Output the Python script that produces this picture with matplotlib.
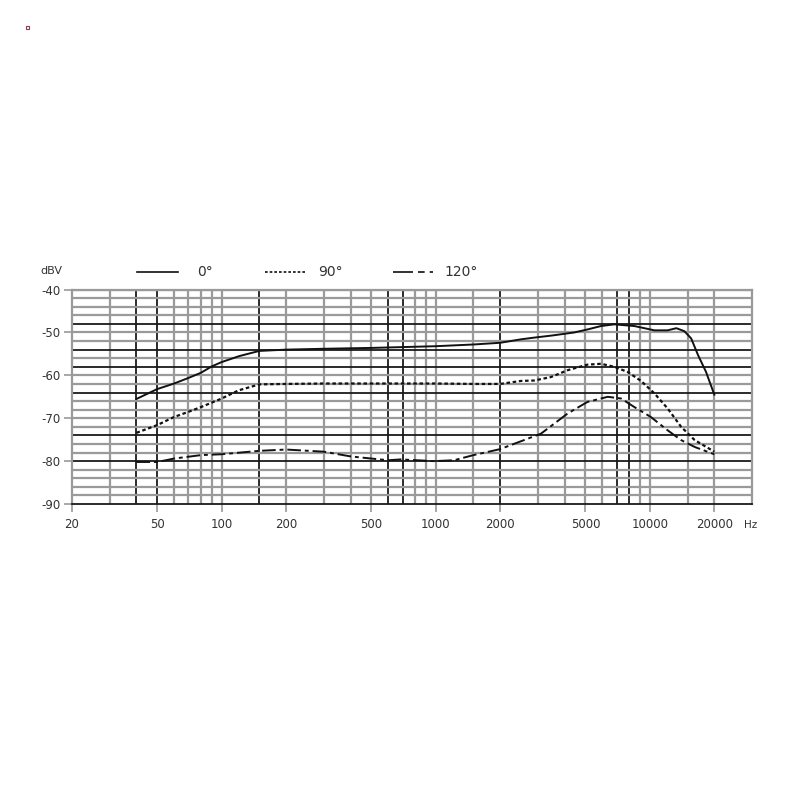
import matplotlib
matplotlib.use("Agg")
import matplotlib.pyplot as plt
from matplotlib.lines import Line2D
from matplotlib.patches import Rectangle
import numpy as np

# frequency response, values (Hz, dBV)
f_0 = [40, 50, 60, 70, 80, 90, 100, 121, 150, 200, 300, 500, 1000, 1500, 2000,
       2500, 2880, 3500, 4430, 5110, 5910, 6820, 8470, 10500, 12100, 13300,
       14500, 15600, 16800, 18300, 20000]
db_0 = [-65.5, -63.2, -61.9, -60.6, -59.4, -57.9, -56.9, -55.5, -54.3, -54.0,
        -53.8, -53.6, -53.2, -52.8, -52.4, -51.6, -51.2, -50.7, -50.0, -49.3,
        -48.5, -48.1, -48.5, -49.5, -49.5, -49.0, -49.7, -51.4, -55.3, -59.2,
        -64.5]

f_90 = [40, 50, 60, 70, 80, 100, 120, 150, 200, 300, 500, 1000, 1500, 2000,
        2500, 2880, 3450, 4130, 5110, 5910, 6820, 7870, 9100, 10500, 12100,
        14000, 16200, 20000]
db_90 = [-73.4, -71.6, -69.7, -68.5, -67.4, -65.4, -63.5, -62.1, -62.0, -61.9,
         -61.9, -61.9, -62.0, -62.0, -61.3, -61.2, -60.4, -58.8, -57.5, -57.3,
         -58.0, -59.2, -61.3, -64.2, -67.7, -72.0, -75.1, -77.8]

f_120 = [40, 50, 60, 80, 100, 150, 200, 300, 400, 500, 600, 686, 980, 1216,
         1500, 2000, 3100, 4130, 5110, 6360, 7340, 8470, 10100, 12100, 14000,
         16200, 20000]
db_120 = [-80.2, -80.2, -79.4, -78.6, -78.4, -77.6, -77.3, -77.8, -78.9, -79.4,
          -79.8, -79.6, -80.0, -79.8, -78.6, -77.2, -73.6, -68.9, -66.2, -65.0,
          -65.4, -67.4, -69.7, -72.8, -75.1, -76.7, -78.4]

x_ticks = [20, 50, 100, 200, 500, 1000, 2000, 5000, 10000, 20000]
y_ticks = [-40, -50, -60, -70, -80, -90]

# grid layout of the printed sheet
grid_f = [30, 40, 50, 60, 70, 80, 90, 100, 150, 200, 300, 400, 500, 600, 700,
          800, 900, 1000, 1500, 2000, 3000, 4000, 5000, 6000, 7000, 8000, 9000,
          10000, 15000, 20000]
dark_f = [40, 50, 150, 600, 700, 2000, 7000, 8000]
grid_db = list(range(-88, -39, 2))
dark_db = [-48, -54, -58, -64, -74, -80]

fig = plt.figure(figsize=(8, 8), dpi=100)
fig.set_facecolor("w")
ax = fig.add_axes([0.09, 0.37, 0.85, 0.268])
ax.set_xscale("log")
ax.set_xlim(20, 30000)
ax.set_ylim(-90, -40)

gray = "#9a9a9a"
dark = "#1a1a1a"
for f in grid_f:
    if f in dark_f:
        ax.axvline(f, color=dark, lw=1.3, zorder=1)
    else:
        ax.axvline(f, color=gray, lw=1.6, zorder=1)
for d in grid_db:
    if d in dark_db:
        ax.axhline(d, color=dark, lw=1.3, zorder=1)
    else:
        ax.axhline(d, color=gray, lw=1.6, zorder=1)

for s in ["top", "left", "right"]:
    ax.spines[s].set_color(gray)
    ax.spines[s].set_linewidth(1.6)
ax.spines["bottom"].set_color(dark)
ax.spines["bottom"].set_linewidth(1.3)

ax.plot(f_0, db_0, color="#111111", lw=1.4, zorder=3)
ax.plot(f_90, db_90, color="#111111", lw=1.6, ls=(0, (1.6, 1.2)), zorder=3)
ax.plot(f_120, db_120, color="#111111", lw=1.4, ls=(0, (7, 2, 2, 2)), zorder=3)

ax.minorticks_off()
ax.set_xticks(x_ticks)
ax.set_xticklabels([str(v) for v in x_ticks])
ax.set_yticks(y_ticks)
ax.set_yticklabels([str(v) for v in y_ticks])
ax.tick_params(axis="both", colors=gray, length=6, width=1.2,
               labelcolor="#333333", labelsize=8.5)
ax.tick_params(axis="y", pad=2)
ax.tick_params(axis="x", pad=4)

fig.text(40 / 800, 1 - 271 / 800, "dBV", fontsize=8, color="#333333", va="center")
fig.text(744 / 800, 1 - 525 / 800, "Hz", fontsize=7.5, color="#333333", va="center")

# legend row above the grid
leg = [((137, 178), "-", "0°", 197),
       ((265, 305), (0, (1.6, 1.2)), "90°", 318),
       ((393, 433), (0, (12, 3, 4, 3)), "120°", 444)]
for (x0, x1), style, label, tx in leg:
    y = 1 - 272 / 800
    fig.add_artist(Line2D([x0 / 800, x1 / 800], [y, y], transform=fig.transFigure,
                          color="#111111", lw=1.2, ls=style))
    fig.text(tx / 800, y, label, fontsize=10, color="#333333", va="center")

fig.add_artist(Rectangle((25.5 / 800, 1 - 29 / 800), 3 / 800, 3 / 800,
                         transform=fig.transFigure, fill=False,
                         edgecolor="#8b3a5a", lw=0.8))

fig.savefig("out.png", dpi=100, facecolor="w")
